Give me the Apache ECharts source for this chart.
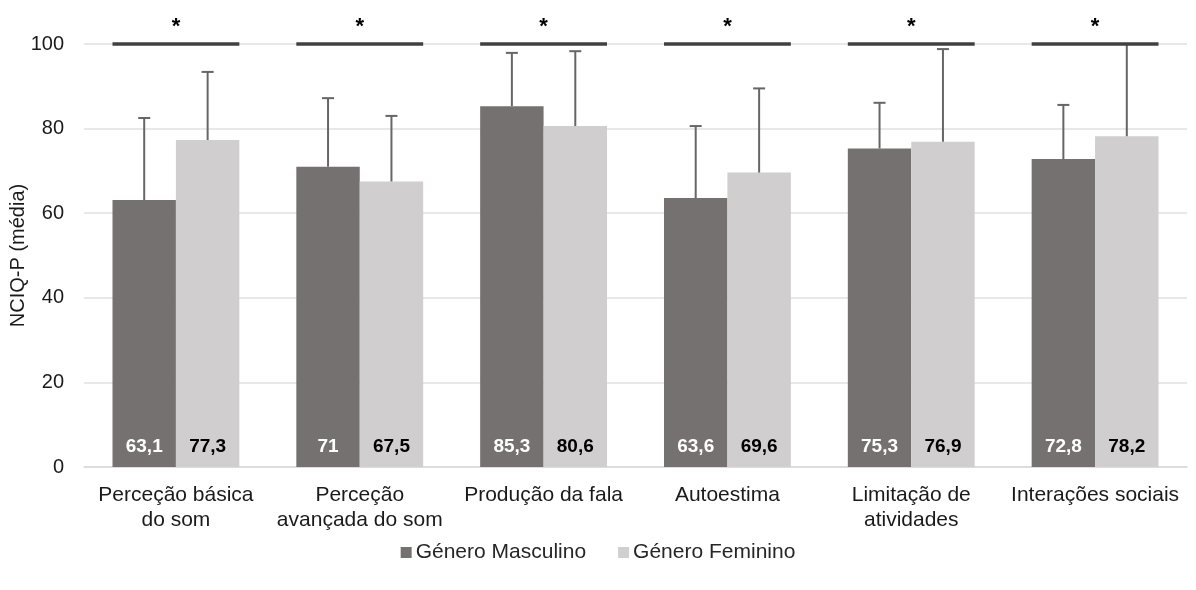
<!DOCTYPE html>
<html>
<head>
<meta charset="utf-8">
<script src="https://cdn.jsdelivr.net/npm/echarts@6/dist/echarts.min.js"></script>
<style>html,body{margin:0;padding:0;background:#fff;}#c{width:1196px;height:590px;}</style>
</head>
<body>
<div id="c"></div>
<script>
var categories = ['Perceção básica\ndo som', 'Perceção\navançada do som', 'Produção da fala', 'Autoestima', 'Limitação de\natividades', 'Interações sociais'];
var seriesNames = ['Género Masculino', 'Género Feminino'];
var maleMeans = [63.1, 71, 85.3, 63.6, 75.3, 72.8];
var femaleMeans = [77.3, 67.5, 80.6, 69.6, 76.9, 78.2];
var maleSD = [19.4, 16.2, 12.6, 17.0, 10.8, 12.8];
var femaleSD = [16.1, 15.5, 17.7, 19.9, 21.9, 21.8];
var significant = [1, 1, 1, 1, 1, 1];
var sigLevel = 100;

var chart = echarts.init(document.getElementById('c'), null, {renderer: 'canvas'});
var FONT = '"Liberation Sans", Arial, sans-serif';

function fmt(v) { return String(v).replace('.', ','); }

function errorSeries(means, sd, side) {
  return {
    type: 'custom',
    z: 5,
    data: means.map(function (m, i) { return [i, m, m + sd[i]]; }),
    renderItem: function (params, api) {
      var i = api.value(0);
      var p0 = api.coord([i, api.value(1)]);
      var p1 = api.coord([i, api.value(2)]);
      var bw = api.size([1, 0])[0] * 0.345;
      var x = p0[0] + side * bw / 2;
      return {
        type: 'group',
        children: [
          {type: 'line', shape: {x1: x, y1: p0[1], x2: x, y2: p1[1]}, style: {stroke: '#666666', lineWidth: 2}},
          {type: 'line', shape: {x1: x - 6, y1: p1[1], x2: x + 6, y2: p1[1]}, style: {stroke: '#666666', lineWidth: 2}}
        ]
      };
    }
  };
}

var option = {
  animation: false,
  backgroundColor: '#fff',
  grid: {left: 84, right: 9, top: 44, bottom: 123, containLabel: false, outerBoundsMode: 'none'},
  legend: {
    top: 537, left: 'center',
    itemWidth: 11, itemHeight: 11, itemGap: 32,
    icon: 'rect',
    textStyle: {fontFamily: FONT, fontSize: 21, color: '#262626', padding: [0, 0, 0, -1]},
    data: seriesNames
  },
  xAxis: {
    type: 'category',
    data: categories,
    axisLine: {lineStyle: {color: '#d9d9d9', width: 1.5}},
    axisTick: {show: false},
    axisLabel: {fontFamily: FONT, fontSize: 21, color: '#1a1a1a', lineHeight: 25, margin: 16, interval: 0}
  },
  yAxis: {
    type: 'value', min: 0, max: 100, interval: 20,
    name: 'NCIQ-P (média)', nameLocation: 'middle', nameGap: 56, nameRotate: 90,
    nameMoveOverlap: false,
    nameTextStyle: {fontFamily: FONT, fontSize: 20, color: '#1a1a1a'},
    axisLine: {show: false}, axisTick: {show: false},
    axisLabel: {fontFamily: FONT, fontSize: 20, color: '#1a1a1a', margin: 20},
    splitLine: {lineStyle: {color: '#e0e0e0', width: 1.5}}
  },
  series: [
    {
      name: seriesNames[0], type: 'bar', data: maleMeans, barWidth: '34.5%', barGap: '0%',
      itemStyle: {color: '#767171'},
      label: {show: true, position: 'insideBottom', distance: 11, formatter: function (p) { return fmt(p.value); },
        fontFamily: FONT, fontSize: 19, fontWeight: 'bold', color: '#ffffff'}
    },
    {
      name: seriesNames[1], type: 'bar', data: femaleMeans, barWidth: '34.5%', barGap: '0%',
      itemStyle: {color: '#d0cece'},
      label: {show: true, position: 'insideBottom', distance: 11, formatter: function (p) { return fmt(p.value); },
        fontFamily: FONT, fontSize: 19, fontWeight: 'bold', color: '#000000'}
    },
    errorSeries(maleMeans, maleSD, -1),
    errorSeries(femaleMeans, femaleSD, 1),
    {
      type: 'custom',
      z: 6,
      clip: false,
      data: significant.map(function (s, i) { return [i, sigLevel, s]; }),
      renderItem: function (params, api) {
        if (!api.value(2)) return null;
        var i = api.value(0);
        var p = api.coord([i, api.value(1)]);
        var bw = api.size([1, 0])[0] * 0.345;
        return {
          type: 'group',
          children: [
            {type: 'line', shape: {x1: p[0] - bw, y1: p[1], x2: p[0] + bw, y2: p[1]}, style: {stroke: '#404040', lineWidth: 3.5}},
            {type: 'text', x: p[0], y: p[1] - 6, style: {text: '*', fontFamily: FONT, fontSize: 22, fontWeight: 'bold', fill: '#000', align: 'center', verticalAlign: 'bottom'}}
          ]
        };
      }
    }
  ]
};
chart.setOption(option);
</script>
</body>
</html>
